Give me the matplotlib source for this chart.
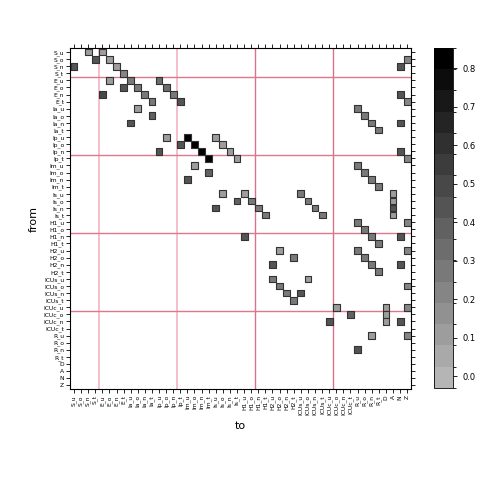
import numpy as np
import matplotlib
matplotlib.use("Agg")
import matplotlib.pyplot as plt
from matplotlib.colors import ListedColormap, BoundaryNorm
from matplotlib import transforms

# state labels (4 strata per compartment + single states)
groups = ["S", "E", "Ia", "Ip", "Im", "Is", "H1", "H2", "ICUs", "ICUc", "R"]
strata = ["u", "o", "n", "t"]
labels = [g + "_" + s for g in groups for s in strata] + ["D", "A", "N", "Z"]

# transitions: from-row, to-column, probability
from_idx = [0, 0, 1, 1, 2, 2, 3, 1, 2, 6, 7,
            4, 4, 4, 5, 5, 5, 6, 6, 6, 7, 7,
            8, 9, 10, 8, 9, 10, 11, 10,
            12, 12, 12, 13, 13, 13, 14, 14, 14, 15, 15, 14, 15,
            16, 17, 18, 16, 17, 18, 19,
            20, 21, 22, 20, 21, 22, 23, 20, 21, 22, 23, 20, 21, 22, 23,
            26, 24, 25, 26, 27, 24, 26,
            28, 30, 29, 28, 29, 30, 31, 28, 30,
            32, 33, 34, 35, 32, 34, 33,
            36, 37, 38, 36, 37, 38, 36, 38,
            42, 40, 40]
to_idx = [2, 4, 3, 5, 0, 6, 7, 47, 46, 46, 47,
          5, 8, 12, 7, 9, 13, 4, 10, 14, 11, 15,
          9, 11, 8, 40, 41, 42, 43, 46,
          13, 16, 20, 15, 17, 21, 12, 18, 22, 19, 23, 46, 47,
          17, 19, 16, 40, 41, 42, 43,
          21, 23, 20, 24, 25, 26, 27, 32, 33, 34, 35, 45, 45, 45, 45,
          24, 40, 41, 42, 43, 47, 46,
          29, 28, 31, 40, 41, 42, 43, 47, 46,
          28, 29, 30, 31, 33, 32, 47,
          37, 39, 36, 44, 44, 44, 47, 46,
          40, 42, 47]
prob = [0.1, 0.1, 0.45, 0.1, 0.45, 0.1, 0.2, 0.2, 0.45, 0.45, 0.2,
        0.1, 0.3, 0.35, 0.45, 0.3, 0.35, 0.5, 0.3, 0.3, 0.3, 0.45,
        0.1, 0.4, 0.45, 0.25, 0.25, 0.25, 0.25, 0.45,
        0.1, 0.85, 0.1, 0.45, 0.85, 0.1, 0.45, 0.85, 0.1, 0.85, 0.1, 0.45, 0.2,
        0.1, 0.4, 0.45, 0.25, 0.25, 0.25, 0.25,
        0.1, 0.4, 0.45, 0.1, 0.3, 0.3, 0.3, 0.3, 0.3, 0.3, 0.3, 0.1, 0.1, 0.45, 0.1,
        0.45, 0.25, 0.25, 0.25, 0.25, 0.2, 0.45,
        0.1, 0.45, 0.3, 0.25, 0.25, 0.25, 0.25, 0.2, 0.45,
        0.3, 0.3, 0.3, 0.3, 0.1, 0.45, 0.2,
        0.1, 0.4, 0.45, 0.1, 0.1, 0.1, 0.2, 0.45,
        0.45, 0.1, 0.2]

breaks = np.linspace(-0.03, 0.852, 17)
grays = np.linspace(0.71, 0.0, 16)
cmap = ListedColormap([(g, g, g) for g in grays])
norm = BoundaryNorm(breaks, cmap.N)

n = len(labels)
fig = plt.figure(figsize=(4.8, 4.8), dpi=100)
ax = fig.add_axes([0.1467, 0.19, 0.709, 0.709])

for p in [3.5, 14.5]:
    ax.axvline(p, color="#f4b4c2", lw=1.2, zorder=1)
for p in [25.5, 36.5]:
    ax.axvline(p, color="#d9728a", lw=1.0, zorder=1)
for p in [3.5, 14.5, 25.5, 36.5]:
    ax.axhline(p, color="#dc7a8c", lw=1.0, zorder=1)

shadow = transforms.offset_copy(ax.transData, fig=fig, x=1.3, y=-1.3, units="dots")
ax.scatter(to_idx, from_idx, s=24, marker="s", color="#d8d8d8", linewidths=0,
           transform=shadow, zorder=2)
ax.scatter(to_idx, from_idx, s=24, marker="s", c=prob, cmap=cmap, norm=norm,
           edgecolors="#333333", linewidths=0.8, zorder=3)

ax.set_xlim(-0.5, n - 0.5)
ax.set_ylim(n - 0.5, -0.5)
ax.set_xticks(range(n))
ax.set_yticks(range(n))
ax.set_xticklabels(labels, rotation=90, fontsize=4.3)
ax.set_yticklabels(labels, fontsize=4.3)
ax.tick_params(direction="out", length=3, width=0.6, top=True, right=True, pad=1.5)
for sp in ax.spines.values():
    sp.set_linewidth(0.8)
ax.set_xlabel("to", fontsize=8)
ax.set_ylabel("from", fontsize=8)

cax = fig.add_axes([0.904, 0.192, 0.040, 0.708])
cb = fig.colorbar(plt.cm.ScalarMappable(norm=norm, cmap=cmap), cax=cax,
                  ticks=[0.0, 0.1, 0.2, 0.3, 0.4, 0.5, 0.6, 0.7, 0.8])
cb.ax.tick_params(labelsize=6, length=3, width=0.6)
cb.outline.set_linewidth(0.6)

fig.savefig("out.png", dpi=100)
